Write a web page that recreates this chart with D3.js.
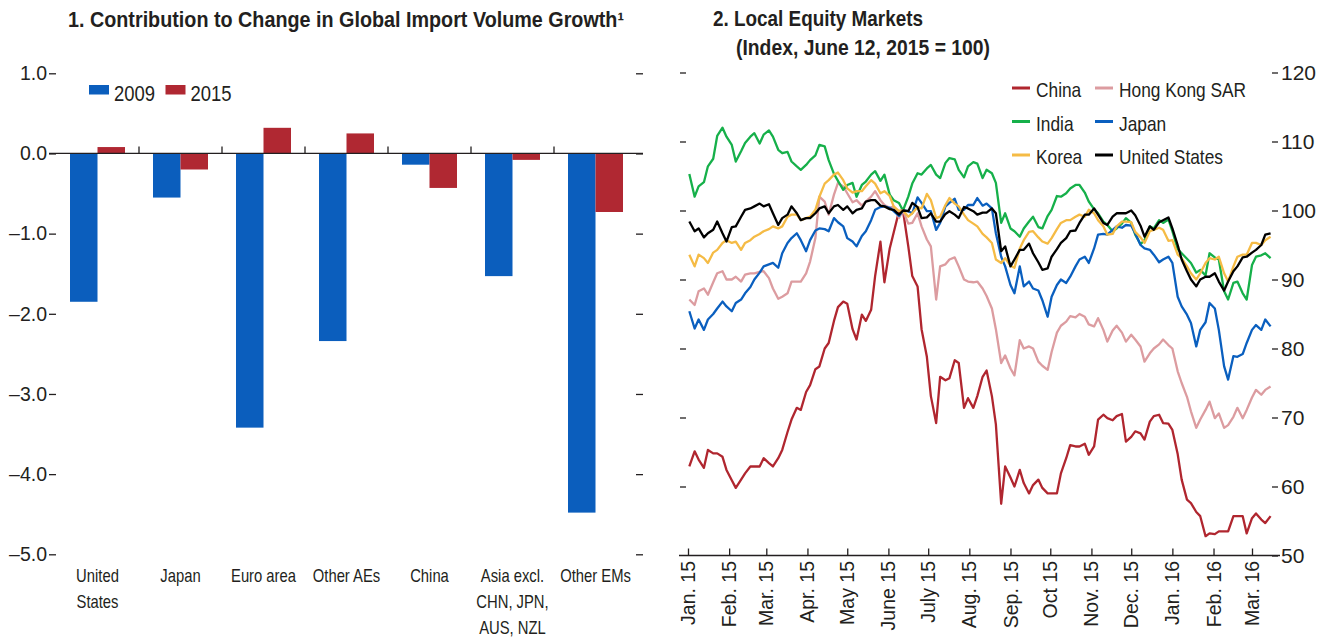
<!DOCTYPE html>
<meta charset="utf-8">
<style>
body { margin: 0; background: #fff; }
text {
  font-family: "Liberation Sans", Arial, sans-serif;
  fill: #231f20;
}
.title { font-weight: bold; font-size: 21.5px; }
.tick-line { stroke: #231f20; stroke-width: 1.3; }
</style>
<svg width="1327" height="639"></svg>
<script src="https://d3js.org/d3.v7.min.js"></script>
<script>

// panel 1 data
var regionLines = [["United", "States"], ["Japan"], ["Euro area"], ["Other AEs"], ["China"],
                   ["Asia excl.", "CHN, JPN,", "AUS, NZL"], ["Other EMs"]];
var imp2009 = [-1.85, -0.55, -3.42, -2.34, -0.14, -1.53, -4.48];
var imp2015 = [0.08, -0.20, 0.32, 0.25, -0.43, -0.08, -0.73];
var barTicks = [1, 0, -1, -2, -3, -4, -5];

// panel 2 data, read twice a week off the chart
var obsDates = [
  "2015-01-02","2015-01-06","2015-01-09","2015-01-13","2015-01-16","2015-01-20","2015-01-23","2015-01-27","2015-01-30","2015-02-03",
  "2015-02-06","2015-02-10","2015-02-13","2015-02-17","2015-02-20","2015-02-24","2015-02-27","2015-03-03","2015-03-06","2015-03-10",
  "2015-03-13","2015-03-17","2015-03-20","2015-03-24","2015-03-27","2015-03-31","2015-04-03","2015-04-07","2015-04-10","2015-04-14",
  "2015-04-17","2015-04-21","2015-04-24","2015-04-28","2015-05-01","2015-05-05","2015-05-08","2015-05-12","2015-05-15","2015-05-19",
  "2015-05-22","2015-05-26","2015-05-29","2015-06-02","2015-06-05","2015-06-09","2015-06-12","2015-06-16","2015-06-19","2015-06-23",
  "2015-06-26","2015-06-30","2015-07-03","2015-07-07","2015-07-10","2015-07-14","2015-07-17","2015-07-21","2015-07-24","2015-07-28",
  "2015-07-31","2015-08-04","2015-08-07","2015-08-11","2015-08-14","2015-08-18","2015-08-21","2015-08-25","2015-08-28","2015-09-01",
  "2015-09-04","2015-09-08","2015-09-11","2015-09-15","2015-09-18","2015-09-22","2015-09-25","2015-09-29","2015-10-02","2015-10-06",
  "2015-10-09","2015-10-13","2015-10-16","2015-10-20","2015-10-23","2015-10-27","2015-10-30","2015-11-03","2015-11-06","2015-11-10",
  "2015-11-13","2015-11-17","2015-11-20","2015-11-24","2015-11-27","2015-12-01","2015-12-04","2015-12-08","2015-12-11","2015-12-15",
  "2015-12-18","2015-12-22","2015-12-25","2015-12-29","2016-01-01","2016-01-05","2016-01-08","2016-01-12","2016-01-15","2016-01-19",
  "2016-01-22","2016-01-26","2016-01-29","2016-02-02","2016-02-05","2016-02-09","2016-02-12","2016-02-16","2016-02-19","2016-02-23",
  "2016-02-26","2016-03-01","2016-03-04","2016-03-08","2016-03-11","2016-03-15"];

var china = [62.9, 65.1, 63.9, 62.7, 65.3, 64.8, 64.8, 64.3, 62.4, 60.9, 59.8, 61.0, 61.9, 62.9, 62.9, 62.9, 64.1, 63.4, 62.9, 64.1,
  65.3, 67.9, 69.7, 71.4, 71.1, 73.7, 74.7, 77.0, 77.4, 80.0, 80.8, 84.0,
  86.0, 86.8, 86.5, 82.8, 81.3, 84.9, 84.0, 85.6, 90.5, 95.5, 89.6, 94.5, 96.8, 99.9, 100.0, 94.8, 90.5, 89.0, 82.8, 78.8,
  73.1, 69.2, 75.9, 75.4, 75.7, 78.3, 77.9, 71.4, 72.8, 71.4, 73.1, 75.9,
  76.8, 73.1, 69.0, 57.5, 62.9, 61.3, 60.0, 62.4, 60.5, 59.0, 60.2, 61.0, 59.8, 59.0, 59.0, 59.0, 61.9, 64.1, 66.0, 65.8,
  65.8, 66.2, 64.6, 65.8, 69.7, 70.4, 69.9, 69.6, 70.2, 70.5, 66.5, 67.2,
  68.0, 67.7, 66.8, 69.4, 70.2, 70.4, 69.2, 69.1, 68.2, 64.7, 61.0, 58.1, 57.6, 56.3, 55.7, 52.8, 53.2, 53.1, 53.5, 53.5,
  53.5, 55.7, 55.7, 55.7, 53.2, 55.4, 56.1, 55.2, 54.7, 55.7];
var hongKong = [87.1, 86.3, 88.3, 88.7, 87.8, 89.6, 90.9, 91.2, 90.0, 90.0, 90.4, 89.7, 90.7, 90.9, 90.9, 91.1, 91.2, 90.2, 88.7, 87.2,
  87.5, 88.0, 89.7, 89.7, 89.7, 90.9, 92.6, 96.0, 102.0, 101.3, 99.4, 102.3,
  104.0, 103.5, 102.5, 101.2, 101.5, 100.7, 101.3, 102.0, 102.8, 101.5, 100.8, 100.4, 100.6, 98.9, 100.0, 98.1, 98.2, 99.6, 97.7, 95.8,
  94.8, 87.1, 91.9, 92.2, 92.9, 93.2, 91.9, 90.0, 89.7, 89.6, 89.7, 88.7,
  87.6, 85.8, 82.8, 77.9, 79.0, 77.1, 76.1, 81.2, 80.0, 80.3, 80.0, 78.1, 77.5, 76.9, 79.5, 82.3, 83.3, 83.9, 84.7, 84.5,
  85.0, 84.6, 83.5, 83.2, 84.4, 82.7, 81.0, 82.6, 83.3, 82.3, 81.0, 82.0,
  81.3, 80.3, 78.1, 79.3, 80.0, 80.6, 81.3, 80.5, 80.0, 76.7, 75.0, 73.0, 70.9, 68.5, 69.7, 71.1, 72.3, 69.9, 70.6, 68.5,
  68.9, 70.1, 71.4, 69.9, 71.1, 72.9, 74.0, 73.3, 74.0, 74.5];
var india = [105.3, 102.0, 103.5, 104.1, 106.4, 107.5, 110.8, 112.0, 110.7, 109.5, 107.1, 108.6, 109.8, 110.7, 111.2, 109.7, 111.0, 111.6, 110.7, 108.8,
  108.3, 108.5, 107.1, 106.4, 105.9, 106.6, 107.3, 108.0, 109.5, 109.3, 107.3, 105.3,
  104.3, 103.0, 103.7, 104.0, 102.0, 103.7, 104.2, 105.2, 105.7, 104.3, 105.2, 102.3, 101.5, 101.1, 100.0, 102.0, 103.9, 105.4, 105.2, 106.1,
  106.6, 105.2, 104.7, 106.9, 107.6, 107.4, 105.9, 104.8, 106.4, 107.0, 106.8, 104.7,
  105.9, 105.4, 104.0, 98.2, 99.6, 97.4, 97.0, 96.2, 97.4, 98.4, 99.1, 97.6, 97.4, 99.2, 100.1, 102.1, 102.0, 102.5, 103.2, 103.7,
  103.7, 102.6, 101.3, 100.2, 99.6, 98.4, 97.9, 97.0, 97.4, 98.1, 98.9, 98.2,
  96.5, 95.1, 95.7, 97.7, 97.4, 98.6, 98.2, 98.7, 97.0, 94.4, 93.8, 93.0, 92.4, 91.0, 91.4, 90.6, 93.8, 93.2, 92.9, 88.3,
  87.1, 89.5, 89.7, 88.0, 87.1, 92.1, 93.3, 93.5, 93.8, 93.1];
var japan = [85.4, 82.9, 84.2, 82.7, 84.2, 85.0, 85.8, 86.8, 86.1, 85.4, 86.6, 87.1, 88.0, 88.9, 90.0, 91.0, 91.9, 92.2, 92.4, 91.7,
  93.8, 95.3, 96.0, 96.7, 95.7, 94.1, 95.7, 97.1, 97.4, 97.3, 97.0, 98.9,
  98.3, 97.7, 96.0, 95.5, 94.8, 96.3, 97.0, 98.6, 100.1, 100.5, 100.6, 100.4, 99.9, 99.2, 100.0, 99.9, 99.6, 101.9, 101.1, 99.9,
  99.9, 97.2, 98.2, 100.6, 101.1, 101.7, 100.1, 100.1, 100.8, 100.8, 101.8, 100.7,
  101.0, 100.3, 96.7, 93.3, 91.9, 89.2, 88.0, 91.9, 89.0, 89.7, 88.7, 88.4, 87.0, 84.6, 87.5, 89.2, 90.0, 89.5, 90.4, 91.9,
  92.9, 93.3, 92.4, 94.5, 96.5, 96.6, 96.5, 97.2, 97.7, 97.5, 97.9, 97.8,
  96.7, 95.0, 94.5, 94.3, 93.6, 92.5, 92.9, 93.3, 92.4, 87.5, 86.1, 84.9, 83.7, 80.3, 82.7, 83.8, 86.6, 85.8, 82.7, 77.4,
  75.5, 78.9, 78.8, 79.2, 80.8, 82.7, 83.4, 82.7, 84.2, 83.2];
var korea = [93.6, 91.9, 93.6, 93.1, 92.4, 93.9, 94.3, 95.3, 95.7, 95.3, 95.5, 94.3, 95.3, 95.7, 96.2, 96.6, 97.0, 97.3, 97.7, 97.4,
  97.7, 99.1, 99.4, 99.4, 98.6, 98.9, 99.1, 100.1, 102.0, 103.9, 104.4, 105.2,
  105.5, 104.4, 103.2, 102.6, 102.8, 102.8, 103.5, 104.4, 103.9, 102.5, 102.8, 102.1, 100.6, 99.9, 100.0, 99.1, 99.6, 100.5, 100.3, 102.4,
  101.5, 98.9, 99.1, 100.8, 101.8, 101.0, 100.6, 99.4, 98.6, 98.1, 97.7, 96.6,
  96.1, 95.3, 92.9, 92.4, 93.1, 92.0, 91.7, 94.5, 95.7, 96.9, 97.0, 96.1, 95.5, 95.2, 96.0, 97.3, 98.2, 98.6, 98.6, 99.1,
  99.4, 99.1, 100.1, 99.6, 98.6, 97.7, 96.5, 96.6, 97.7, 98.4, 98.4, 98.3,
  96.9, 96.1, 95.3, 97.0, 97.2, 97.5, 97.2, 95.6, 95.7, 93.6, 93.1, 91.9, 90.9, 90.0, 90.9, 92.4, 93.1, 92.9, 93.3, 90.9,
  89.7, 91.9, 93.3, 93.6, 93.6, 95.3, 95.3, 95.0, 95.7, 96.2];
var unitedStates = [98.4, 97.0, 97.4, 96.1, 96.7, 97.2, 98.4, 96.7, 95.5, 97.6, 97.7, 99.1, 100.1, 100.3, 100.6, 101.0, 100.6, 100.9, 99.6, 97.9,
  98.9, 99.4, 100.6, 99.6, 98.6, 98.9, 98.9, 99.6, 100.3, 100.6, 99.6, 100.6,
  100.8, 100.1, 100.6, 99.6, 100.1, 100.3, 101.3, 101.5, 101.5, 100.7, 100.6, 100.2, 100.1, 99.4, 100.0, 99.9, 101.1, 100.5, 98.9, 99.0,
  99.6, 98.4, 98.4, 99.5, 99.9, 99.4, 98.9, 100.5, 100.3, 99.9, 99.4, 99.7,
  99.7, 100.3, 99.6, 94.1, 94.8, 91.9, 92.9, 94.3, 94.3, 95.2, 93.8, 92.5, 91.4, 91.6, 93.3, 94.4, 95.3, 96.0, 97.0, 97.1,
  98.2, 99.4, 99.4, 100.3, 99.4, 98.2, 97.9, 99.1, 99.6, 99.6, 99.6, 100.0,
  99.3, 97.8, 96.2, 97.7, 97.2, 98.3, 98.6, 99.0, 97.4, 95.0, 92.9, 91.2, 90.0, 89.0, 90.0, 90.4, 90.4, 90.9, 89.7, 88.4,
  89.7, 91.2, 91.9, 93.2, 93.3, 93.9, 94.3, 95.0, 96.5, 96.7];

var seriesNames = ["China", "Hong Kong SAR", "India", "Japan", "Korea", "United States"];
var seriesValues = [china, hongKong, india, japan, korea, unitedStates];
var seriesColours = ["#b0262f", "#dc9ca0", "#16b04a", "#0a5fbf", "#f5bb45", "#000000"];
var monthLabels = ["Jan. 15", "Feb. 15", "Mar. 15", "Apr. 15", "May 15", "June 15", "July 15", "Aug. 15",
                   "Sep. 15", "Oct 15", "Nov. 15", "Dec. 15", "Jan. 16", "Feb. 16", "Mar. 16"];
var equityTicks = [120, 110, 100, 90, 80, 70, 60, 50];

var blue = "#0b5ebd", red = "#b02832";

var svg = d3.select("svg");

// the source font is a condensed one, so squeeze regular text sideways
function narrowText(parent, x, y, str, size, squeeze, anchor) {
  return parent.append("text")
     .attr("transform", "translate(" + x + "," + y + ") scale(" + squeeze + ",1)")
     .attr("text-anchor", anchor || "start")
     .style("font-size", size + "px")
     .text(str);
}

// ---------- panel 1: bars ----------
var xBand = d3.scaleBand().domain(d3.range(regionLines.length)).range([56, 637]);
var yBar = d3.scaleLinear().domain([-5, 1]).range([554.3, 73.3]);
var barW = 27.5;

svg.append("text").attr("class", "title")
   .attr("x", 68).attr("y", 27)
   .attr("textLength", 556).attr("lengthAdjust", "spacingAndGlyphs")
   .text("1. Contribution to Change in Global Import Volume Growth\u00b9");

var yAxisL = d3.axisLeft(yBar).tickValues(barTicks).tickSize(7).tickPadding(2)
    .tickFormat(function(d) { return (d < 0 ? "\u2013" : "") + Math.abs(d).toFixed(1); });
var gl = svg.append("g").attr("transform", "translate(56,0)").call(yAxisL);
gl.select(".domain").remove();
gl.selectAll("line").attr("stroke", "#231f20").attr("stroke-width", 1.3);
gl.selectAll("text").style("font-size", "19.5px").attr("fill", "#231f20");

var yAxisR = d3.axisRight(yBar).tickValues(barTicks).tickSize(7).tickFormat("");
var gr = svg.append("g").attr("transform", "translate(636,0)").call(yAxisR);
gr.select(".domain").remove();
gr.selectAll("line").attr("stroke", "#231f20").attr("stroke-width", 1.3);

svg.append("g").selectAll("rect")
   .data(imp2009).enter().append("rect")
   .attr("x", function(d, i) { return xBand(i) + xBand.bandwidth() / 2 - barW; })
   .attr("y", function(d) { return yBar(Math.max(0, d)); })
   .attr("width", barW)
   .attr("height", function(d) { return Math.abs(yBar(d) - yBar(0)); })
   .style("fill", blue);

svg.append("g").selectAll("rect")
   .data(imp2015).enter().append("rect")
   .attr("x", function(d, i) { return xBand(i) + xBand.bandwidth() / 2; })
   .attr("y", function(d) { return yBar(Math.max(0, d)); })
   .attr("width", barW)
   .attr("height", function(d) { return Math.abs(yBar(d) - yBar(0)); })
   .style("fill", red);

// zero line and category separators
svg.append("line").attr("class", "tick-line")
   .attr("x1", 49).attr("x2", 643).attr("y1", yBar(0)).attr("y2", yBar(0));
svg.append("g").selectAll("line")
   .data(d3.range(1, regionLines.length)).enter().append("line")
   .attr("class", "tick-line")
   .attr("x1", function(i) { return xBand(i); }).attr("x2", function(i) { return xBand(i); })
   .attr("y1", yBar(0)).attr("y2", yBar(0) - 7);

// category labels
regionLines.forEach(function(lines, i) {
  lines.forEach(function(s, j) {
    narrowText(svg, xBand(i) + xBand.bandwidth() / 2, 582 + j * 26, s, 18.5, 0.8, "middle");
  });
});

// legend
[["2009", blue, 89], ["2015", red, 165.5]].forEach(function(l) {
  svg.append("rect").attr("x", l[2]).attr("y", 85).attr("width", 20).attr("height", 9.5).style("fill", l[1]);
  narrowText(svg, l[2] + 25, 100.5, l[0], 21.5, 0.86);
});

// ---------- panel 2: equity lines ----------
var parseDate = d3.timeParse("%Y-%m-%d");
var dates = obsDates.map(parseDate);
var x = d3.scaleTime().domain([new Date(2015, 0, 1), new Date(2016, 2, 1)]).range([688, 1252]);
var y2 = d3.scaleLinear().domain([50, 120]).range([555.5, 72.5]);

svg.append("text").attr("class", "title")
   .attr("x", 713).attr("y", 26)
   .attr("textLength", 210).attr("lengthAdjust", "spacingAndGlyphs")
   .text("2. Local Equity Markets");
svg.append("text").attr("class", "title")
   .attr("x", 736).attr("y", 55)
   .attr("textLength", 254).attr("lengthAdjust", "spacingAndGlyphs")
   .text("(Index, June 12, 2015 = 100)");

var yAxis2L = d3.axisLeft(y2).tickValues(equityTicks.slice(0, 7)).tickSize(6).tickFormat("");
var g2l = svg.append("g").attr("transform", "translate(686,0)").call(yAxis2L);
g2l.select(".domain").remove();

var yAxis2R = d3.axisRight(y2).tickValues(equityTicks).tickSize(6).tickPadding(3);
var g2r = svg.append("g").attr("transform", "translate(1272,0)").call(yAxis2R);
g2r.select(".domain").remove();
g2r.selectAll("text").style("font-size", "21px").attr("fill", "#231f20");

var months = d3.timeMonth.range(new Date(2015, 0, 1), new Date(2016, 2, 2));
var xAxis2 = d3.axisBottom(x).tickValues(months).tickSize(-7).tickFormat("");
var g2x = svg.append("g").attr("transform", "translate(0," + y2(50) + ")").call(xAxis2);
g2x.select(".domain").remove();
svg.append("line").attr("class", "tick-line")
   .attr("x1", 679).attr("x2", 1280).attr("y1", y2(50)).attr("y2", y2(50));

[g2l, g2r, g2x].forEach(function(g) {
  g.selectAll("line").attr("stroke", "#231f20").attr("stroke-width", 1.3);
});

svg.append("g").selectAll("text")
   .data(months).enter().append("text")
   .attr("transform", function(d) { return "translate(" + x(d) + ",561) rotate(-90)"; })
   .attr("text-anchor", "end")
   .attr("dy", "0.36em")
   .style("font-size", "19.5px")
   .text(function(d, i) { return monthLabels[i]; });

var line = d3.line()
    .x(function(d, i) { return x(dates[i]); })
    .y(function(d) { return y2(d); });

svg.append("g").selectAll("path")
   .data(seriesValues).enter().append("path")
   .attr("d", line)
   .style("fill", "none")
   .style("stroke", function(d, i) { return seriesColours[i]; })
   .style("stroke-width", 2.3)
   .style("stroke-linejoin", "round");

// legend, two columns
seriesNames.forEach(function(name, i) {
  var lx = i % 2 === 0 ? 1012 : 1095;
  var ly = 88 + Math.floor(i / 2) * 33.5;
  svg.append("line").attr("x1", lx).attr("x2", lx + 18).attr("y1", ly).attr("y2", ly)
     .style("stroke", seriesColours[i]).style("stroke-width", 3);
  narrowText(svg, lx + 24, ly + 9, name, 20.5, 0.845);
});

</script>
